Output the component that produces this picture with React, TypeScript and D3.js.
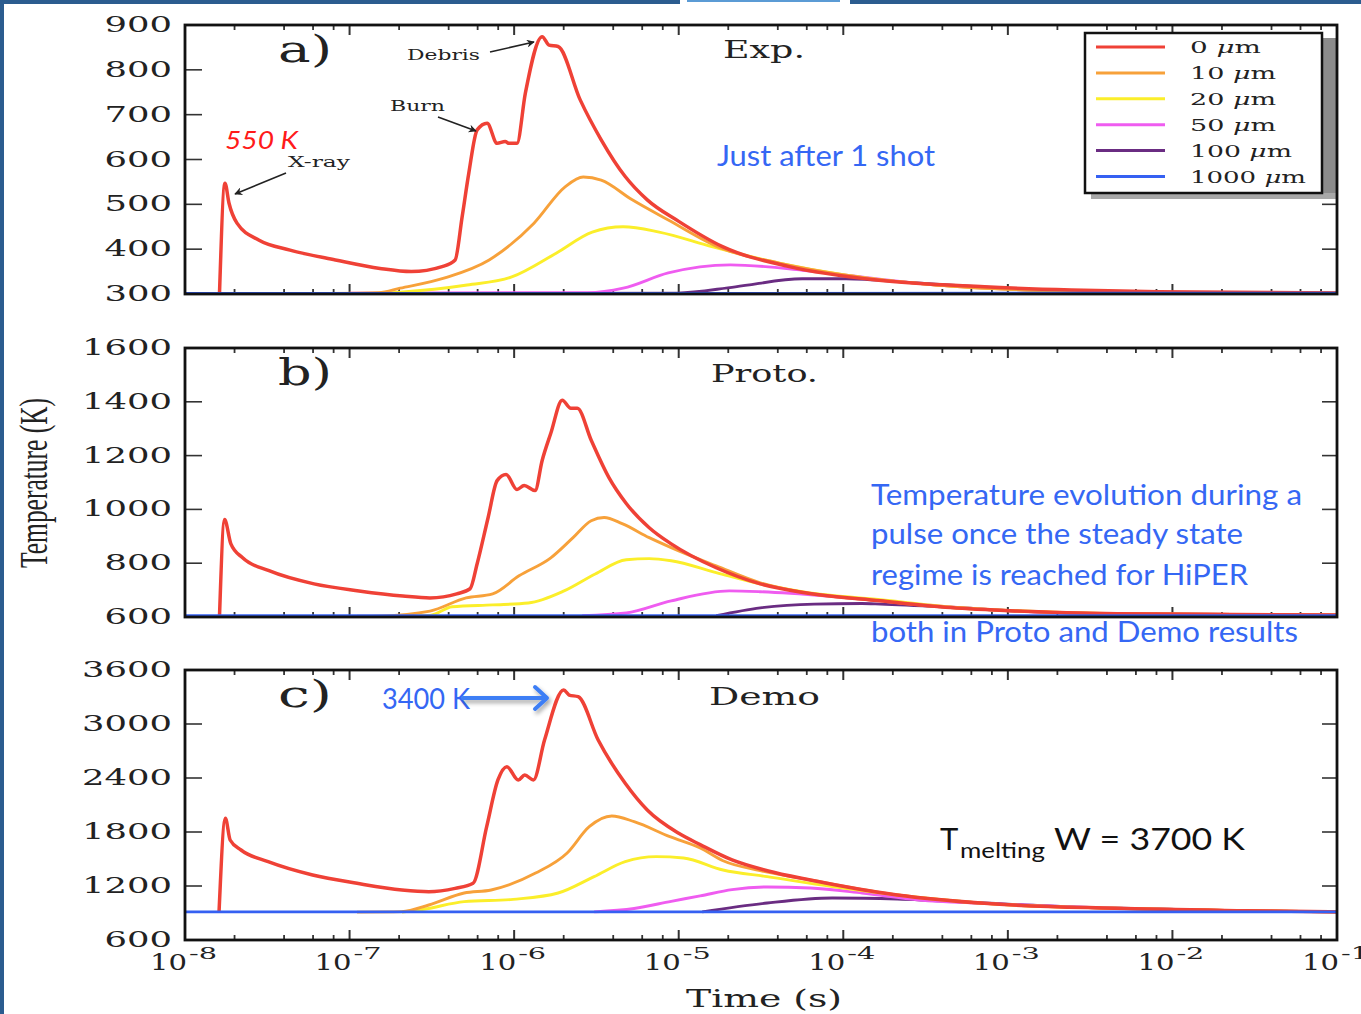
import React, { useEffect, useRef } from "react";
import * as d3 from "d3";

type Pt = [number, number];

const W = 1361;
const H = 1014;

// legend / series
const legendLabels = ["0", "10", "20", "50", "100", "1000"];
const seriesColors = ["#ef4136", "#f7a13a", "#fbee2a", "#ef5cf0", "#6a2c82", "#3560f2"];

// a) Exp.  [time (s), temperature (K)]
const expRed: Pt[] = [[1.62e-8, 300], [1.75e-8, 547], [1.85e-8, 503], [2.07e-8, 458], [2.82e-8, 420], [4.35e-8, 398], [8.2e-8, 376], [1.53e-7, 357], [2.37e-7, 350], [3.65e-7, 361], [4.38e-7, 376], [4.83e-7, 472], [5.3e-7, 569], [5.96e-7, 666], [6.85e-7, 681], [7.88e-7, 636], [8.82e-7, 640], [9.32e-7, 636], [1.04e-6, 636], [1.17e-6, 748], [1.48e-6, 874], [1.63e-6, 855], [1.85e-6, 852], [2.52e-6, 733], [3.38e-6, 644], [4.73e-6, 562], [6.44e-6, 510], [1.0e-5, 462], [1.86e-5, 405], [4.7e-5, 361], [1.59e-4, 331], [7.2e-4, 316], [2.43e-3, 309], [8.22e-3, 305], [0.1, 302]];
const expOrange: Pt[] = [[3e-8, 300], [1.5e-7, 303], [2.03e-7, 313], [3.79e-7, 336], [7.05e-7, 376], [1.32e-6, 458], [2.04e-6, 539], [2.63e-6, 561], [3.38e-6, 554], [5.22e-6, 510], [8.64e-6, 465], [1.81e-5, 402], [4.08e-5, 369], [1.04e-4, 342], [3.67e-4, 320], [1.28e-3, 309], [5e-3, 304], [0.1, 302]];
const expYellow: Pt[] = [[1e-7, 300], [2.03e-7, 304], [5.18e-7, 320], [9.67e-7, 338], [1.8e-6, 391], [2.98e-6, 438], [4.6e-6, 450], [7.61e-6, 438], [1.61e-5, 405], [4.08e-5, 369], [1.04e-4, 342], [3.67e-4, 320], [1.28e-3, 309], [5e-3, 304], [0.1, 302]];
const expMagenta: Pt[] = [[1e-7, 302], [2.8e-6, 303], [4.6e-6, 313], [8.64e-6, 347], [2.06e-5, 365], [5.63e-5, 353], [1.04e-4, 342], [3.67e-4, 320], [1.28e-3, 309], [5e-3, 304], [0.1, 302]];
const expPurple: Pt[] = [[1e-7, 301], [9.79e-6, 302], [2.21e-5, 316], [5.63e-5, 334], [1.04e-4, 334], [2.67e-4, 325], [9.39e-4, 313], [3.65e-3, 304], [0.1, 302]];
const expBlue: Pt[] = [[1e-8, 301], [0.1, 302]];

// b) Proto.
const protoRed: Pt[] = [[1.62e-8, 600], [1.74e-8, 962], [1.9e-8, 872], [2.24e-8, 820], [3.24e-8, 772], [6.08e-8, 723], [1.14e-7, 697], [2.11e-7, 678], [3.08e-7, 671], [4.48e-7, 686], [5.4e-7, 705], [5.96e-7, 798], [6.95e-7, 970], [7.88e-7, 1107], [8.94e-7, 1130], [1.04e-6, 1074], [1.15e-6, 1089], [1.34e-6, 1070], [1.48e-6, 1182], [1.67e-6, 1283], [1.96e-6, 1406], [2.21e-6, 1376], [2.42e-6, 1376], [2.94e-6, 1257], [3.76e-6, 1119], [4.8e-6, 1022], [6.62e-6, 932], [9.0e-6, 872], [1.69e-5, 783], [3.13e-5, 723], [5.87e-5, 690], [1.68e-4, 660], [4.47e-4, 635], [1.14e-3, 622], [4.63e-3, 612], [0.1, 607]];
const protoOrange: Pt[] = [[1.11e-7, 603], [1.55e-7, 604], [3.08e-7, 622], [5.11e-7, 671], [7.4e-7, 686], [1.07e-6, 753], [1.67e-6, 820], [2.28e-6, 895], [2.94e-6, 958], [3.52e-6, 970], [4.53e-6, 947], [6.62e-6, 895], [9.0e-6, 858], [1.69e-5, 790], [3.13e-5, 727], [5.87e-5, 690], [1.68e-4, 660], [4.47e-4, 635], [1.14e-3, 622], [4.63e-3, 612], [0.1, 607]];
const protoYellow: Pt[] = [[2.03e-7, 603], [3.08e-7, 606], [4.2e-7, 638], [7.4e-7, 645], [1.22e-6, 652], [2.01e-6, 697], [3.11e-6, 760], [4.8e-6, 813], [6.62e-6, 817], [9.0e-6, 809], [1.69e-5, 765], [3.13e-5, 723], [5.87e-5, 692], [1.68e-4, 664], [4.47e-4, 637], [1.14e-3, 623], [4.63e-3, 612], [0.1, 607]];
const protoMagenta: Pt[] = [[2.59e-6, 605], [4.8e-6, 615], [9.0e-6, 660], [2.03e-5, 697], [3.13e-5, 694], [7.99e-5, 678], [1.68e-4, 660], [4.47e-4, 637], [1.14e-3, 622], [4.63e-3, 612], [0.1, 607]];
const protoPurple: Pt[] = [[1.69e-5, 605], [3.13e-5, 634], [6.66e-5, 648], [1.3e-4, 650], [1.68e-4, 648], [4.47e-4, 636], [1.14e-3, 622], [4.63e-3, 612], [0.1, 607]];
const protoBlue: Pt[] = [[1e-8, 605], [0.1, 605]];

// c) Demo
const demoRed: Pt[] = [[1.61e-8, 912], [1.76e-8, 1952], [1.88e-8, 1711], [2.19e-8, 1600], [3.2e-8, 1470], [5.96e-8, 1322], [1.11e-7, 1230], [2.08e-7, 1156], [3.03e-7, 1137], [4.38e-7, 1174], [5.63e-7, 1230], [6.81e-7, 1859], [7.97e-7, 2378], [9.03e-7, 2526], [1.06e-6, 2378], [1.16e-6, 2433], [1.31e-6, 2378], [1.53e-6, 2822], [2.0e-6, 3378], [2.16e-6, 3322], [2.45e-6, 3303], [3.24e-6, 2822], [4.73e-6, 2341], [6.44e-6, 2044], [1.0e-5, 1785], [1.35e-5, 1660], [2.11e-5, 1490], [3.45e-5, 1370], [6.3e-5, 1267], [2.13e-4, 1100], [7.2e-4, 1007], [4.44e-3, 952], [2.78e-2, 925], [0.1, 912]];
const demoOrange: Pt[] = [[1.11e-7, 910], [2.08e-7, 915], [3.03e-7, 989], [4.97e-7, 1122], [7.25e-7, 1156], [1.35e-6, 1344], [2.1e-6, 1567], [2.86e-6, 1859], [3.92e-6, 1978], [5.36e-6, 1915], [8.83e-6, 1748], [1.35e-5, 1622], [1.86e-5, 1480], [3.13e-5, 1370], [6.3e-5, 1267], [2.13e-4, 1100], [7.2e-4, 1007], [4.44e-3, 952], [2.78e-2, 925], [0.1, 912]];
const demoYellow: Pt[] = [[2.08e-7, 910], [2.84e-7, 942], [4.97e-7, 1026], [9.86e-7, 1052], [1.85e-6, 1122], [3.06e-6, 1304], [4.73e-6, 1470], [7.3e-6, 1526], [1.07e-5, 1511], [1.86e-5, 1378], [3.45e-5, 1304], [8.57e-5, 1193], [2.13e-4, 1100], [7.2e-4, 1007], [4.44e-3, 952], [2.78e-2, 925], [0.1, 912]];
const demoMagenta: Pt[] = [[3.06e-6, 912], [5.36e-6, 950], [9.0e-6, 1030], [1.35e-5, 1090], [2.11e-5, 1160], [3.45e-5, 1189], [6.3e-5, 1178], [1.3e-4, 1122], [2.9e-4, 1044], [7.2e-4, 1007], [4.44e-3, 952], [2.78e-2, 925], [0.1, 912]];
const demoPurple: Pt[] = [[1.39e-5, 912], [3.45e-5, 1011], [8.57e-5, 1067], [2.13e-4, 1056], [7.2e-4, 1011], [2.43e-3, 967], [8.22e-3, 944], [2.78e-2, 922], [0.1, 912]];
const demoBlue: Pt[] = [[1e-8, 912], [0.1, 912]];

// axes
const xTickExps = [-8, -7, -6, -5, -4, -3, -2, -1];
const xMinorMults = [2, 4, 6, 8];
const yTicksA = [300, 400, 500, 600, 700, 800, 900];
const yTicksB = [600, 800, 1000, 1200, 1400, 1600];
const yTicksC = [600, 1200, 1800, 2400, 3000, 3600];

const SERIF = "'DejaVu Serif', 'Liberation Serif', serif";
const SANS = "Lato, 'Open Sans', sans-serif";
const BLUE_TXT = "#3567f4";

const panels = [
  { letter: "a)", name: "Exp.", top: 25, bottom: 294, ticks: yTicksA, series: [expRed, expOrange, expYellow, expMagenta, expPurple, expBlue], nameX: 723, nameW: 82, nameY: 58 },
  { letter: "b)", name: "Proto.", top: 348, bottom: 617, ticks: yTicksB, series: [protoRed, protoOrange, protoYellow, protoMagenta, protoPurple, protoBlue], nameX: 711, nameW: 107, nameY: 382 },
  { letter: "c)", name: "Demo", top: 670, bottom: 940, ticks: yTicksC, series: [demoRed, demoOrange, demoYellow, demoMagenta, demoPurple, demoBlue], nameX: 709, nameW: 111, nameY: 705 },
];

const X0 = 185;
const X1 = 1337;

function draw(svg: d3.Selection<SVGSVGElement, unknown, null, undefined>) {
  svg.append("rect").attr("width", W).attr("height", H).attr("fill", "#fff");

  const defs = svg.append("defs");
  defs.append("marker")
    .attr("id", "arrowBlack")
    .attr("viewBox", "0 0 10 10")
    .attr("refX", 9).attr("refY", 5)
    .attr("markerUnits", "userSpaceOnUse")
    .attr("markerWidth", 13).attr("markerHeight", 8)
    .attr("orient", "auto")
    .append("path").attr("d", "M0,0 L10,5 L0,10 L3,5 Z").attr("fill", "#222");
  const shadow = defs.append("filter").attr("id", "shadow")
    .attr("x", "-20%").attr("y", "-60%").attr("width", "140%").attr("height", "220%");
  shadow.append("feDropShadow").attr("dx", 2).attr("dy", 3).attr("stdDeviation", 2)
    .attr("flood-color", "#000").attr("flood-opacity", 0.35);

  // slide frame
  svg.append("rect").attr("x", 0).attr("y", 0).attr("width", 4).attr("height", H).attr("fill", "#2b5c8f");
  svg.append("rect").attr("x", 0).attr("y", 0).attr("width", 680).attr("height", 4).attr("fill", "#2b5c8f");
  svg.append("rect").attr("x", 850).attr("y", 0).attr("width", W - 850).attr("height", 4).attr("fill", "#2b5c8f");
  svg.append("rect").attr("x", 687).attr("y", 0).attr("width", 153).attr("height", 2).attr("fill", "#5b9bd5");

  const x = d3.scaleLog().domain([1e-8, 1e-1]).range([X0, X1]);
  const majors = xTickExps.map((e) => Math.pow(10, e));
  const minors: number[] = [];
  xTickExps.slice(0, -1).forEach((e) => {
    xMinorMults.forEach((m) => minors.push(m * Math.pow(10, e)));
  });

  // draw order: purple, magenta, yellow, orange, red, blue on top
  const order = [4, 3, 2, 1, 0, 5];

  panels.forEach((p, i) => {
    const y = d3.scaleLinear().domain([p.ticks[0], p.ticks[p.ticks.length - 1]]).range([p.bottom, p.top]);
    const g = svg.append("g");

    const clipId = `clip-${i}`;
    defs.append("clipPath").attr("id", clipId)
      .append("rect").attr("x", X0).attr("y", p.top).attr("width", X1 - X0).attr("height", p.bottom - p.top);

    // ticks
    const tk = g.append("g").attr("stroke", "#333");
    majors.forEach((v) => {
      tk.append("line").attr("x1", x(v)).attr("x2", x(v)).attr("y1", p.top).attr("y2", p.top + 10).attr("stroke-width", 2);
      tk.append("line").attr("x1", x(v)).attr("x2", x(v)).attr("y1", p.bottom).attr("y2", p.bottom - 10).attr("stroke-width", 2);
    });
    minors.forEach((v) => {
      tk.append("line").attr("x1", x(v)).attr("x2", x(v)).attr("y1", p.top).attr("y2", p.top + 5).attr("stroke-width", 1.8);
      tk.append("line").attr("x1", x(v)).attr("x2", x(v)).attr("y1", p.bottom).attr("y2", p.bottom - 5).attr("stroke-width", 1.8);
    });
    p.ticks.forEach((v) => {
      tk.append("line").attr("x1", X0).attr("x2", X0 + 17).attr("y1", y(v)).attr("y2", y(v)).attr("stroke-width", 1.6);
      tk.append("line").attr("x1", X1 - 15).attr("x2", X1).attr("y1", y(v)).attr("y2", y(v)).attr("stroke-width", 1.6);
    });

    // y tick labels
    g.selectAll("text.ytick")
      .data(p.ticks)
      .join("text")
      .attr("class", "ytick")
      .attr("x", 172)
      .attr("y", (d) => y(d) + 7)
      .attr("text-anchor", "end")
      .attr("font-family", SERIF)
      .attr("font-size", 23)
      .attr("fill", "#222")
      .attr("textLength", (d) => String(d).length * 22.5)
      .attr("lengthAdjust", "spacingAndGlyphs")
      .text((d) => d);

    // legend shadow (panel a) sits under the curves layer
    if (i === 0) {
      g.append("rect").attr("x", 1091).attr("y", 38).attr("width", X1 - 1091).attr("height", 161).attr("fill", "#8c8c8c");
      g.append("rect").attr("x", 1091).attr("y", 193).attr("width", X1 - 1091).attr("height", 6).attr("fill", "#a8a8a8");
    }

    // curves
    const line = d3.line<Pt>().x((d) => x(d[0])).y((d) => y(d[1])).curve(d3.curveMonotoneX);
    const lines = g.append("g").attr("clip-path", `url(#${clipId})`);
    order.forEach((k) => {
      lines.append("path")
        .datum(p.series[k])
        .attr("d", line)
        .attr("fill", "none")
        .attr("stroke", seriesColors[k])
        .attr("stroke-width", k === 0 ? 3.5 : 2.9)
        .attr("stroke-linejoin", "round");
    });

    // frame
    g.append("rect").attr("x", X0).attr("y", p.top).attr("width", X1 - X0).attr("height", p.bottom - p.top)
      .attr("fill", "none").attr("stroke", "#111").attr("stroke-width", 2.8);

    // panel letter and name
    g.append("text").attr("x", 278).attr("y", p.top + 37)
      .attr("font-family", SERIF).attr("font-size", 37).attr("fill", "#222")
      .attr("textLength", 54).attr("lengthAdjust", "spacingAndGlyphs")
      .text(p.letter);
    g.append("text").attr("x", p.nameX).attr("y", p.nameY)
      .attr("font-family", SERIF).attr("font-size", 25).attr("fill", "#222")
      .attr("textLength", p.nameW).attr("lengthAdjust", "spacingAndGlyphs")
      .text(p.name);
  });

  // legend box (panel a)
  const lg = svg.append("g");
  lg.append("rect").attr("x", 1085).attr("y", 33).attr("width", 237).attr("height", 160)
    .attr("fill", "#fff").attr("stroke", "#111").attr("stroke-width", 2.5);
  const labelW = [71, 86, 86, 86, 102, 116];
  legendLabels.forEach((lab, k) => {
    const ly = 47 + k * 25.9;
    lg.append("line").attr("x1", 1096).attr("x2", 1165).attr("y1", ly).attr("y2", ly)
      .attr("stroke", seriesColors[k]).attr("stroke-width", 3);
    const t = lg.append("text").attr("x", 1190).attr("y", ly + 6)
      .attr("font-family", SERIF).attr("font-size", 16).attr("fill", "#222")
      .attr("textLength", labelW[k]).attr("lengthAdjust", "spacingAndGlyphs");
    t.append("tspan").text(lab + " ");
    t.append("tspan").attr("font-style", "italic").text("\u03bc");
    t.append("tspan").text("m");
  });

  // x tick labels under panel c
  const xl = svg.append("g").attr("font-family", SERIF).attr("fill", "#222");
  xTickExps.forEach((e) => {
    const px = x(Math.pow(10, e));
    xl.append("text").attr("x", px - 35).attr("y", 970).attr("font-size", 23)
      .attr("textLength", 37).attr("lengthAdjust", "spacingAndGlyphs").text("10");
    xl.append("text").attr("x", px + 4).attr("y", 959).attr("font-size", 16)
      .attr("textLength", 28).attr("lengthAdjust", "spacingAndGlyphs").text(`-${-e}`);
  });

  // axis titles
  svg.append("text").attr("x", 764).attr("y", 1007).attr("text-anchor", "middle")
    .attr("font-family", SERIF).attr("font-size", 24).attr("fill", "#222")
    .attr("textLength", 156).attr("lengthAdjust", "spacingAndGlyphs")
    .text("Time (s)");
  svg.append("text")
    .attr("transform", "translate(47,483) scale(1.7,1) rotate(-90)")
    .attr("text-anchor", "middle")
    .attr("font-family", "'Liberation Serif', serif").attr("font-size", 24).attr("fill", "#222")
    .attr("textLength", 170).attr("lengthAdjust", "spacingAndGlyphs")
    .text("Temperature (K)");

  // annotations panel a
  const an = svg.append("g").attr("font-family", SERIF).attr("font-size", 15).attr("fill", "#222");
  an.append("text").attr("x", 407).attr("y", 60).attr("textLength", 73).attr("lengthAdjust", "spacingAndGlyphs").text("Debris");
  an.append("text").attr("x", 390).attr("y", 111).attr("textLength", 55).attr("lengthAdjust", "spacingAndGlyphs").text("Burn");
  an.append("text").attr("x", 288).attr("y", 167).attr("textLength", 62).attr("lengthAdjust", "spacingAndGlyphs").text("X-ray");
  const arrows = [[490, 52, 534, 42], [438, 117, 476, 131], [286, 173, 235, 194]];
  arrows.forEach(([ax1, ay1, ax2, ay2]) => {
    an.append("line").attr("x1", ax1).attr("y1", ay1).attr("x2", ax2).attr("y2", ay2)
      .attr("stroke", "#222").attr("stroke-width", 1.6).attr("marker-end", "url(#arrowBlack)");
  });
  svg.append("text").attr("x", 225).attr("y", 149)
    .attr("font-family", SANS).attr("font-style", "italic").attr("font-size", 26).attr("fill", "#ff1a1a")
    .attr("textLength", 73).attr("lengthAdjust", "spacingAndGlyphs")
    .text("550 K");

  // blue notes
  const note = svg.append("g").attr("font-family", SANS).attr("font-size", 28).attr("fill", BLUE_TXT);
  note.append("text").attr("x", 717).attr("y", 166).attr("textLength", 218).attr("lengthAdjust", "spacingAndGlyphs").text("Just after 1 shot");
  const para = [
    ["Temperature evolution during a", 505, 431],
    ["pulse once the steady state", 544, 372],
    ["regime is reached for HiPER", 585, 377],
    ["both in Proto and Demo results", 642, 427],
  ] as [string, number, number][];
  para.forEach(([t, by, w]) => {
    note.append("text").attr("x", 871).attr("y", by).attr("textLength", w).attr("lengthAdjust", "spacingAndGlyphs").text(t);
  });
  note.append("text").attr("x", 382).attr("y", 709).attr("textLength", 88).attr("lengthAdjust", "spacingAndGlyphs").text("3400 K");

  const ba = svg.append("g").attr("filter", "url(#shadow)").attr("fill", "none")
    .attr("stroke", "#3d7ef5").attr("stroke-width", 4).attr("stroke-linecap", "round").attr("stroke-linejoin", "round");
  ba.append("path").attr("d", "M463,698 L546,698");
  ba.append("path").attr("d", "M535,687 L547,698 L535,709");

  // melting temperature note
  const tm = svg.append("g").attr("font-family", SANS).attr("fill", "#111");
  tm.append("text").attr("x", 940).attr("y", 850).attr("font-size", 31).text("T");
  tm.append("text").attr("x", 960).attr("y", 858).attr("font-size", 21)
    .attr("textLength", 85).attr("lengthAdjust", "spacingAndGlyphs").text("melting");
  tm.append("text").attr("x", 1054).attr("y", 850).attr("font-size", 31)
    .attr("textLength", 191).attr("lengthAdjust", "spacingAndGlyphs").text("W = 3700 K");
}

export default function App() {
  const ref = useRef<SVGSVGElement>(null);

  useEffect(() => {
    if (!ref.current) return;
    const svg = d3.select(ref.current);
    svg.selectAll("*").remove();
    draw(svg);
  }, []);

  return (
    <svg
      ref={ref}
      width={W}
      height={H}
      style={{ position: "absolute", left: 0, top: 0, display: "block" }}
    />
  );
}
